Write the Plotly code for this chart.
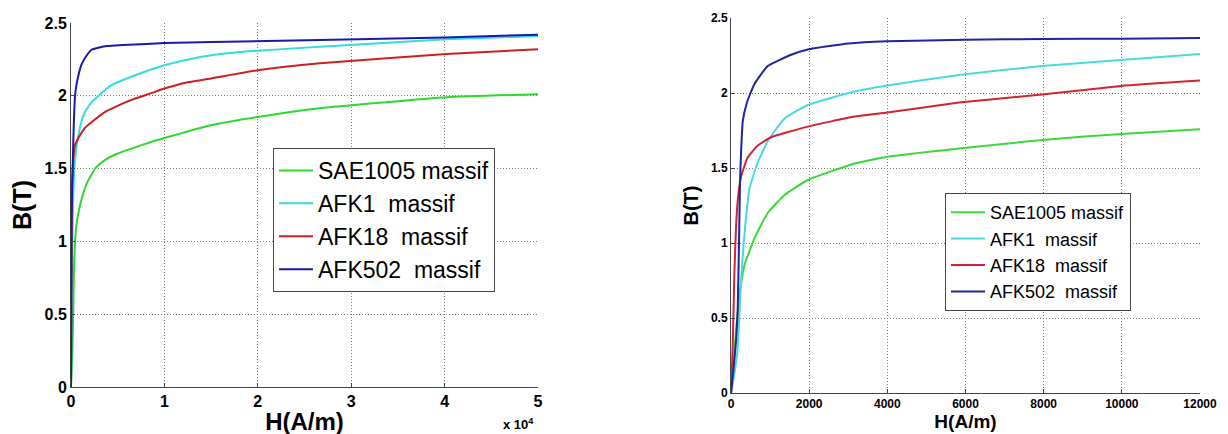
import plotly.graph_objects as go

# ---------------- data: left chart (H in A/m, shown in units of 1e4) ----------------
names = ["SAE1005 massif", "AFK1  massif", "AFK18  massif", "AFK502  massif"]

sae_H_left = [0, 150, 250, 330, 500, 750, 1110, 1700, 2200, 2720, 3660, 4860, 7960, 10000, 13300, 15100, 20000, 26650, 40200, 50000]
sae_B_left = [0, 0.25, 0.55, 0.83, 1.06, 1.18, 1.285, 1.40, 1.46, 1.51, 1.56, 1.6, 1.67, 1.71, 1.77, 1.8, 1.855, 1.915, 1.99, 2.01]

afk1_H_left = [0, 60, 120, 180, 260, 360, 550, 790, 1330, 2000, 2940, 4370, 7240, 10000, 13300, 16500, 20000, 26650, 40200, 50000]
afk1_B_left = [0, 0.5, 0.9, 1.15, 1.35, 1.5, 1.63, 1.73, 1.868, 1.94, 2.0, 2.075, 2.15, 2.21, 2.26, 2.29, 2.31, 2.337, 2.388, 2.41]

afk18_H_left = [0, 30, 60, 100, 180, 300, 430, 700, 970, 1500, 2220, 3660, 6000, 8670, 10000, 12260, 15100, 20000, 26650, 40200, 50000]
afk18_B_left = [0, 0.6, 1.1, 1.35, 1.5, 1.6, 1.66, 1.70, 1.73, 1.78, 1.82, 1.89, 1.96, 2.02, 2.05, 2.09, 2.12, 2.175, 2.223, 2.287, 2.32]

afk502_H_left = [0, 40, 72, 120, 180, 250, 320, 430, 600, 790, 1100, 1500, 2200, 2940, 3660, 6160, 10000, 15100, 26650, 40000, 50000]
afk502_B_left = [0, 0.6, 1.15, 1.35, 1.5, 1.7, 1.845, 2.0, 2.08, 2.14, 2.21, 2.26, 2.316, 2.33, 2.34, 2.35, 2.362, 2.369, 2.383, 2.40, 2.42]

# ---------------- data: right chart ----------------
sae_H_right = [0, 43, 128, 214, 342, 598, 940, 1370, 1966, 3160, 4000, 5835, 7960, 9980, 12000]
sae_B_right = [0, 0.12, 0.41, 0.65, 0.85, 1.03, 1.2, 1.32, 1.42, 1.53, 1.575, 1.63, 1.687, 1.727, 1.758]

afk1_H_right = [0, 100, 171, 256, 325, 470, 658, 940, 1370, 1966, 3160, 4000, 5835, 7960, 9980, 12000]
afk1_B_right = [0, 0.15, 0.3, 0.74, 1.0, 1.36, 1.52, 1.68, 1.83, 1.92, 2.01, 2.05, 2.12, 2.18, 2.22, 2.26]

afk18_H_right = [0, 43, 85, 128, 171, 256, 427, 684, 1026, 1966, 3160, 4000, 5835, 7960, 9980, 12000]
afk18_B_right = [0, 0.3, 0.79, 1.1, 1.28, 1.44, 1.57, 1.65, 1.705, 1.776, 1.843, 1.87, 1.936, 1.99, 2.047, 2.083]

afk502_H_right = [0, 60, 130, 171, 205, 230, 260, 300, 400, 500, 600, 940, 1540, 1966, 3000, 4000, 6000, 8000, 10000, 12000]
afk502_B_right = [0, 0.15, 0.35, 0.55, 1.0, 1.4, 1.62, 1.81, 1.93, 2.0, 2.06, 2.18, 2.255, 2.29, 2.33, 2.345, 2.355, 2.36, 2.362, 2.366]

left_xticks = [0, 10000, 20000, 30000, 40000, 50000]
left_xticktext = ["0", "1", "2", "3", "4", "5"]
right_xticks = [0, 2000, 4000, 6000, 8000, 10000, 12000]
right_xticktext = ["0", "2000", "4000", "6000", "8000", "10000", "12000"]
yticks = [0, 0.5, 1, 1.5, 2, 2.5]
yticktext = ["0", "0.5", "1", "1.5", "2", "2.5"]

colors_left = ["#2fd82f", "#35dcdc", "#cc2020", "#1a1aaa"]
colors_right = ["#3ad83a", "#48dada", "#d02530", "#24249a"]

FONT = "Liberation Sans, Arial, sans-serif"
W, H = 1228, 434
OFF = 8  # page body margin

fig = go.Figure()
left_sets = [(sae_H_left, sae_B_left), (afk1_H_left, afk1_B_left),
             (afk18_H_left, afk18_B_left), (afk502_H_left, afk502_B_left)]
right_sets = [(sae_H_right, sae_B_right), (afk1_H_right, afk1_B_right),
              (afk18_H_right, afk18_B_right), (afk502_H_right, afk502_B_right)]

for (hx, by), nm, c in zip(left_sets, names, colors_left):
    fig.add_trace(go.Scatter(x=hx, y=by, name=nm, mode="lines",
                             line=dict(color=c, width=2, shape="spline", smoothing=0.4),
                             xaxis="x", yaxis="y", legend="legend"))
for (hx, by), nm, c in zip(right_sets, names, colors_right):
    fig.add_trace(go.Scatter(x=hx, y=by, name=nm, mode="lines",
                             line=dict(color=c, width=2, shape="spline", smoothing=0.4),
                             xaxis="x2", yaxis="y2", legend="legend2"))

def px_x(p):
    return (p - OFF) / W

def px_y(p):
    return 1 - (p - OFF) / H

grid = dict(showgrid=True, gridcolor="#7a7a7a", griddash="1px,2px", gridwidth=1,
            showline=True, linecolor="#444", linewidth=1, zeroline=False,
            ticks="inside", ticklen=4, tickcolor="#444", mirror=False, automargin=False)

fig.update_layout(
    template="none",
    width=W, height=H,
    margin=dict(l=0, r=0, t=0, b=0, autoexpand=False),
    paper_bgcolor="white", plot_bgcolor="white",
    font=dict(family=FONT, color="black"),
    showlegend=True,
    xaxis=dict(domain=[px_x(71), px_x(538)], range=[0, 50000], tickvals=left_xticks,
               ticktext=left_xticktext, anchor="y",
               tickfont=dict(size=16, family=FONT, weight="bold"),
               title=dict(text="H(A/m)", font=dict(size=24, weight="bold"), standoff=3), **grid),
    yaxis=dict(domain=[px_y(387), px_y(23)], range=[0, 2.5], tickvals=yticks,
               ticktext=yticktext, anchor="x",
               tickfont=dict(size=16, family=FONT, weight="bold"),
               title=dict(text="B(T)", font=dict(size=25, weight="bold"), standoff=9), **grid),
    xaxis2=dict(domain=[px_x(731), px_x(1200)], range=[0, 12000], tickvals=right_xticks,
                ticktext=right_xticktext, anchor="y2",
                tickfont=dict(size=12, family=FONT, weight="bold"),
                title=dict(text="H(A/m)", font=dict(size=19, weight="bold"), standoff=0), **grid),
    yaxis2=dict(domain=[px_y(393), px_y(18)], range=[0, 2.5], tickvals=yticks,
                ticktext=yticktext, anchor="x2",
                tickfont=dict(size=12, family=FONT, weight="bold"),
                title=dict(text="B(T)", font=dict(size=20, weight="bold"), standoff=6), **grid),
    legend=dict(x=px_x(273), y=px_y(148), xanchor="left", yanchor="top",
                bgcolor="white", bordercolor="#444", borderwidth=1, itemwidth=34,
                font=dict(size=23, family=FONT, color="black"), tracegroupgap=0),
    legend2=dict(x=px_x(945), y=px_y(193), xanchor="left", yanchor="top",
                 bgcolor="white", bordercolor="#444", borderwidth=1, itemwidth=34,
                 font=dict(size=18, family=FONT, color="black"), tracegroupgap=0),
    annotations=[dict(text="<b>x 10<sup>4</sup></b>", x=px_x(518), y=px_y(434),
                      xref="paper", yref="paper", showarrow=False, yanchor="bottom",
                      font=dict(size=13, family=FONT, color="black"))],
)

fig.write_html("out.html")
